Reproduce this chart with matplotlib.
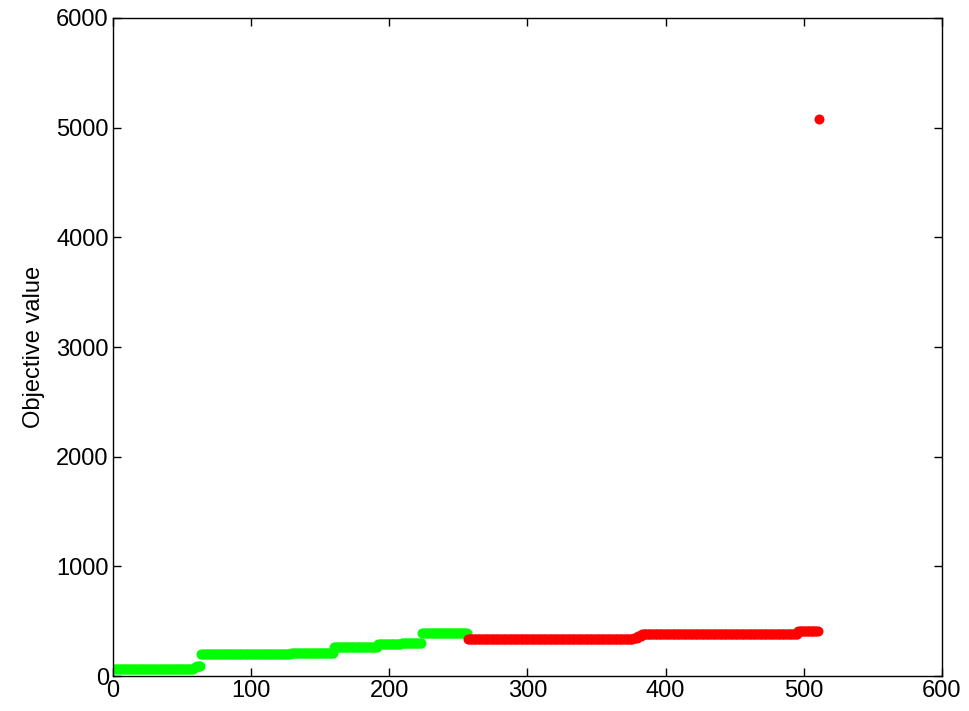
import matplotlib
matplotlib.use("Agg")
import matplotlib.pyplot as plt
import numpy as np

# step levels (value, number of points)
green_levels = [68, 80, 95, 198, 214, 264, 292, 305, 392]
green_counts = [58, 2, 3, 65, 31, 32, 17, 15, 33]
red_levels = [334, 345, 365, 386, 410, 5077]
red_counts = [120, 3, 3, 113, 15, 1]

green_y = np.repeat(green_levels, green_counts)
red_y = np.repeat(red_levels, red_counts)
green_x = np.arange(1, len(green_y) + 1)
red_x = np.arange(len(green_y) + 1, len(green_y) + len(red_y) + 1)

plt.rcParams['font.family'] = ['Liberation Sans', 'DejaVu Sans']

fig = plt.figure(figsize=(9.69, 7.11), dpi=100)
ax = fig.add_axes([0.1166, 0.0492, 0.8555, 0.9255])

ax.plot(green_x, green_y, 'o', color=(0, 1, 0), markersize=7.2, markeredgewidth=0)
ax.plot(red_x, red_y, 'o', color=(1, 0, 0), markersize=7.2, markeredgewidth=0)

ax.set_xlim(0, 600)
ax.set_ylim(0, 6000)
ax.set_xticks(np.arange(0, 601, 100))
ax.set_yticks(np.arange(0, 6001, 1000))
ax.tick_params(direction='in', length=6, width=1, top=True, right=True,
               labelsize=17, pad=3)
for s in ax.spines.values():
    s.set_linewidth(1)
ax.set_ylabel("Objective value", fontsize=17, labelpad=8)

fig.savefig("out.png", dpi=100)
